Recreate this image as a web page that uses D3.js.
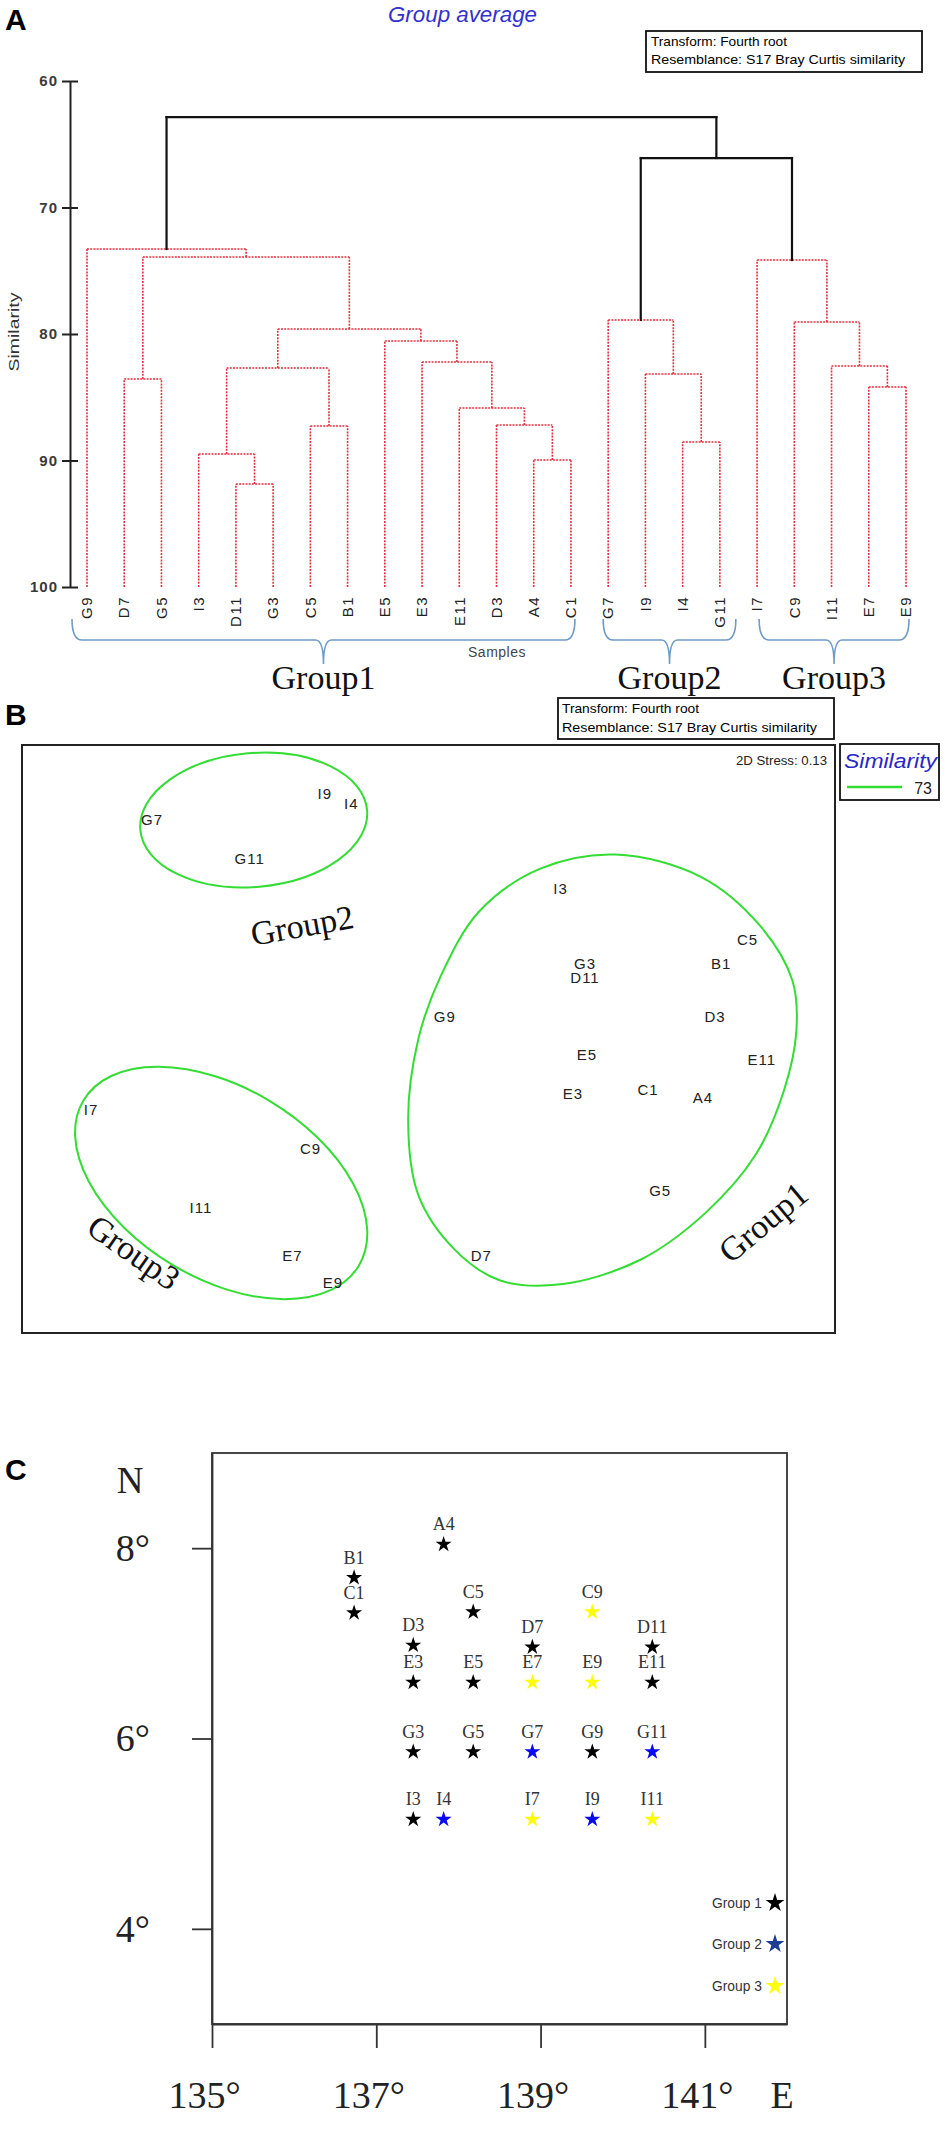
<!DOCTYPE html>
<html>
<head>
<meta charset="utf-8">
<script src="https://cdn.jsdelivr.net/npm/d3@7"></script>
<style>
  body { margin: 0; background: #fff; }
  svg { display: block; font-family: 'Liberation Sans', Arial, sans-serif; }
  .serif { font-family: 'Liberation Serif', 'Times New Roman', serif; }
</style>
</head>
<body>
<svg width="950" height="2130"></svg>
<script>
// ---------- panel A: dendrogram ----------
const leaves = ['G9','D7','G5','I3','D11','G3','C5','B1','E5','E3','E11','D3','A4','C1','G7','I9','I4','G11','I7','C9','I11','E7','E9'];
const mergeIds   = ['m1','m2','m3','m4','m5','m6','m7','m8','m9','m10','m11','m12','m13','m14','m15','m16','m17','m18','m19','m20','m21','m22'];
const mergeLeft  = ['A4','D11','E7','I4','I3','C5','D3','E11','I9','D7','I11','m5','E3','E5','m12','C9','G7','m10','G9','I7','m17','m19'];
const mergeRight = ['C1','G3','E9','G11','m2','B1','m1','m7','m4','G5','m3','m6','m8','m13','m14','m11','m9','m15','m18','m16','m20','m21'];
const mergeSim   = [89.96, 91.86, 84.19, 88.54, 89.49, 87.27, 87.19, 85.85, 83.16, 83.56, 82.53, 82.69, 82.21, 80.55, 79.6, 79.05, 78.89, 73.91, 73.28, 74.15, 66.09, 62.85];
const simTicks = [60, 70, 80, 90, 100];

const groupNames = ['Group1', 'Group2', 'Group3'];
const groupFirst = ['G9', 'G7', 'I7'];
const groupLast  = ['C1', 'G11', 'E9'];

// ---------- panel B: MDS ----------
const mdsLabels = ['G7','I9','I4','G11','I3','C5','G3','B1','D11','D3','E5','E11','E3','C1','A4','G5','D7','G9','I7','C9','I11','E7','E9'];
const mdsX = [-1.36,-0.51,-0.38,-0.88,0.65,1.57,0.77,1.44,0.77,1.41,0.78,1.64,0.71,1.08,1.35,1.14,0.26,0.08,-1.66,-0.58,-1.12,-0.67,-0.47];
const mdsY = [1.08,1.21,1.16,0.89,0.74,0.49,0.37,0.37,0.30,0.11,-0.08,-0.10,-0.27,-0.25,-0.29,-0.75,-1.07,0.11,-0.35,-0.54,-0.83,-1.07,-1.20];
const contour1X = [0.92,1.34,1.63,1.79,1.81,1.75,1.61,1.36,1.04,0.65,0.35,0.13,-0.05,-0.10,-0.05,0.06,0.25,0.55];
const contour1Y = [0.91,0.80,0.56,0.29,0.04,-0.25,-0.57,-0.86,-1.09,-1.21,-1.19,-1.04,-0.77,-0.40,0.00,0.31,0.63,0.84];
const ellipseCX = [-0.86, -1.02];
const ellipseCY = [1.08, -0.71];
const ellipseRX = [0.56, 0.79];
const ellipseRY = [0.33, 0.47];
const ellipseAngle = [-5, 31];
const similarityLevel = 73;
const stress = 0.13;

// ---------- panel C: sampling map ----------
const siteLabels = ['A4','B1','C1','C5','C9','D3','D7','D11','E3','E5','E7','E9','E11','G3','G5','G7','G9','G11','I3','I4','I7','I9','I11'];
const siteLon = [137.82,136.73,136.73,138.18,139.63,137.45,138.90,140.36,137.45,138.18,138.90,139.63,140.36,137.45,138.18,138.90,139.63,140.36,137.45,137.82,138.90,139.63,140.36];
const siteLat = [8.04,7.69,7.32,7.33,7.33,6.98,6.96,6.96,6.59,6.59,6.59,6.59,6.59,5.86,5.86,5.86,5.86,5.86,5.15,5.15,5.15,5.15,5.15];
const siteGroup = [1,1,1,1,3,1,1,1,1,1,3,3,1,1,1,2,1,2,1,2,3,2,3];
const lonTicks = [135, 137, 139, 141];
const latTicks = [4, 6, 8];
const legendLabels = ['Group 1', 'Group 2', 'Group 3'];

const starColor = { 1: '#000', 2: '#0a0af0', 3: '#ffff00' };
const legendColor = ['#000', '#1b3d92', '#ffff10'];

const svg = d3.select('svg');

// panel letters
[['A', 30], ['B', 725], ['C', 1480]].forEach(([t, yy]) => {
  svg.append('text').text(t).attr('x', 5).attr('y', yy)
    .style('font-size', '30px').style('font-weight', 'bold');
});

// ================= A =================
svg.append('text').text('Group average')
  .attr('x', 388).attr('y', 22)
  .attr('textLength', 149).attr('lengthAdjust', 'spacingAndGlyphs')
  .style('font-size', '22px').style('font-style', 'italic').style('fill', '#3131cf');

const boxA = svg.append('g');
boxA.append('rect').attr('x', 646).attr('y', 31).attr('width', 276).attr('height', 41)
  .style('fill', 'none').style('stroke', '#111').style('stroke-width', 1.8);
boxA.append('text').text('Transform: Fourth root').attr('x', 651).attr('y', 46)
  .attr('textLength', 136).attr('lengthAdjust', 'spacingAndGlyphs').style('font-size', '13px');
boxA.append('text').text('Resemblance: S17 Bray Curtis similarity').attr('x', 651).attr('y', 64)
  .attr('textLength', 254).attr('lengthAdjust', 'spacingAndGlyphs').style('font-size', '13px');

const xLeaf = d3.scalePoint().domain(leaves).range([87, 906]);
const ySim = d3.scaleLinear().domain([60, 100]).range([81, 587]);

const nodeX = {}, nodeSim = {};
leaves.forEach(l => { nodeX[l] = xLeaf(l); nodeSim[l] = 100; });
mergeIds.forEach((id, i) => {
  nodeX[id] = (nodeX[mergeLeft[i]] + nodeX[mergeRight[i]]) / 2;
  nodeSim[id] = mergeSim[i];
});

const cutLevel = 70;
const segs = [];
mergeIds.forEach((id, i) => {
  const s = mergeSim[i];
  const black = s < cutLevel;
  segs.push({ x1: nodeX[mergeLeft[i]], s1: s, x2: nodeX[mergeRight[i]], s2: s, black });
  [mergeLeft[i], mergeRight[i]].forEach(c => {
    segs.push({ x1: nodeX[c], s1: nodeSim[c], x2: nodeX[c], s2: s, black });
  });
});

const dendro = svg.append('g');
dendro.selectAll('line.red')
  .data(segs.filter(d => !d.black))
  .enter()
  .append('line')
    .attr('class', 'red')
    .attr('x1', d => d.x1).attr('x2', d => d.x2)
    .attr('y1', d => ySim(d.s1)).attr('y2', d => ySim(d.s2))
    .style('stroke', '#e2303f').style('stroke-width', 1.6)
    .style('stroke-dasharray', '2,1.2');
dendro.selectAll('line.black')
  .data(segs.filter(d => d.black))
  .enter()
  .append('line')
    .attr('class', 'black')
    .attr('x1', d => d.x1).attr('x2', d => d.x2)
    .attr('y1', d => ySim(d.s1)).attr('y2', d => ySim(d.s2))
    .style('stroke', '#111').style('stroke-width', 2.2)
    .style('stroke-linecap', 'square');

const simAxis = d3.axisLeft(ySim).tickValues(simTicks).tickSize(8).tickSizeOuter(0).tickPadding(4);
const gAxA = svg.append('g').attr('transform', 'translate(70,0)').call(simAxis);
gAxA.select('.domain').style('stroke', '#222').style('stroke-width', 2);
gAxA.selectAll('.tick line').attr('x1', 8).style('stroke', '#222').style('stroke-width', 2);
gAxA.selectAll('.tick text')
  .style('font-size', '15px').style('font-weight', 'bold').style('fill', '#3a3a3a')
  .style('letter-spacing', '1px').style('font-family', "'Liberation Sans', Arial, sans-serif");

svg.append('text').text('Similarity')
  .attr('transform', 'translate(19,332) rotate(-90)')
  .attr('text-anchor', 'middle')
  .attr('textLength', 79).attr('lengthAdjust', 'spacingAndGlyphs')
  .style('font-size', '14px').style('fill', '#333');

svg.selectAll('text.leaf')
  .data(leaves)
  .enter()
  .append('text')
    .attr('class', 'leaf')
    .text(d => d)
    .attr('text-anchor', 'end')
    .attr('dy', '0.35em')
    .attr('transform', d => `translate(${xLeaf(d)},596) rotate(-90)`)
    .style('font-size', '15px').style('letter-spacing', '1.5px').style('fill', '#222');

svg.append('text').text('Samples')
  .attr('x', 497).attr('y', 657).attr('text-anchor', 'middle')
  .style('font-size', '14px').style('fill', '#444').style('letter-spacing', '0.5px');

// group braces
const bracePadL = [15, 5, -2];
const bracePadR = [4, 16, 3];
groupNames.forEach((g, i) => {
  const x0 = xLeaf(groupFirst[i]) - bracePadL[i];
  const x1 = xLeaf(groupLast[i]) + bracePadR[i];
  const xm = (x0 + x1) / 2;
  const top = 619, h = 640, tip = 664;
  const p = d3.path();
  p.moveTo(x0, top);
  p.quadraticCurveTo(x0, h, x0 + 10, h);
  p.lineTo(xm - 8, h);
  p.quadraticCurveTo(xm, h, xm, tip);
  p.quadraticCurveTo(xm, h, xm + 8, h);
  p.lineTo(x1 - 10, h);
  p.quadraticCurveTo(x1, h, x1, top);
  svg.append('path').attr('d', p.toString())
    .style('fill', 'none').style('stroke', '#6f9bc4').style('stroke-width', 1.6);
  svg.append('text').attr('class', 'serif').text(g)
    .attr('x', xm).attr('y', 689).attr('text-anchor', 'middle')
    .style('font-size', '34px').style('fill', '#111');
});

// ================= B =================
const boxB = svg.append('g');
boxB.append('rect').attr('x', 558).attr('y', 698).attr('width', 276).attr('height', 41)
  .style('fill', 'none').style('stroke', '#111').style('stroke-width', 1.8);
boxB.append('text').text('Transform: Fourth root').attr('x', 562).attr('y', 713)
  .attr('textLength', 137).attr('lengthAdjust', 'spacingAndGlyphs').style('font-size', '13px');
boxB.append('text').text('Resemblance: S17 Bray Curtis similarity').attr('x', 562).attr('y', 732)
  .attr('textLength', 255).attr('lengthAdjust', 'spacingAndGlyphs').style('font-size', '13px');

const mx = d3.scaleLinear().domain([-2, 2]).range([22, 835]);
const my = d3.scaleLinear().domain([-1.45, 1.45]).range([1333, 745]);

svg.append('rect').attr('x', mx(-2)).attr('y', my(1.45))
  .attr('width', mx(2) - mx(-2)).attr('height', my(-1.45) - my(1.45))
  .style('fill', 'none').style('stroke', '#222').style('stroke-width', 2);

svg.append('text').text(`2D Stress: ${stress}`)
  .attr('x', 827).attr('y', 765).attr('text-anchor', 'end')
  .attr('textLength', 91).attr('lengthAdjust', 'spacingAndGlyphs')
  .style('font-size', '13px').style('fill', '#222');

// similarity legend
svg.append('rect').attr('x', 840).attr('y', 744).attr('width', 99).attr('height', 56)
  .style('fill', 'none').style('stroke', '#111').style('stroke-width', 1.8);
svg.append('text').text('Similarity').attr('x', 844).attr('y', 768)
  .attr('textLength', 93).attr('lengthAdjust', 'spacingAndGlyphs')
  .style('font-size', '20px').style('font-style', 'italic').style('fill', '#2727c8');
svg.append('line').attr('x1', 847).attr('x2', 902).attr('y1', 787).attr('y2', 787)
  .style('stroke', '#33dd33').style('stroke-width', 2.5);
svg.append('text').text(similarityLevel).attr('x', 932).attr('y', 794).attr('text-anchor', 'end')
  .style('font-size', '16px').style('fill', '#222');

// contours
const contourLine = d3.line().curve(d3.curveCatmullRomClosed.alpha(0.5))
  .x(i => mx(contour1X[i])).y(i => my(contour1Y[i]));
svg.append('path').attr('d', contourLine(d3.range(contour1X.length)))
  .style('fill', 'none').style('stroke', '#33dd33').style('stroke-width', 2);
ellipseCX.forEach((cx, i) => {
  const px = mx(cx), py = my(ellipseCY[i]);
  svg.append('ellipse')
    .attr('cx', px).attr('cy', py)
    .attr('rx', mx(cx + ellipseRX[i]) - px)
    .attr('ry', py - my(ellipseCY[i] + ellipseRY[i]))
    .attr('transform', `rotate(${ellipseAngle[i]},${px},${py})`)
    .style('fill', 'none').style('stroke', '#33dd33').style('stroke-width', 2);
});

svg.selectAll('text.mds')
  .data(mdsLabels)
  .enter()
  .append('text')
    .attr('class', 'mds')
    .text(d => d)
    .attr('x', (d, i) => mx(mdsX[i]))
    .attr('y', (d, i) => my(mdsY[i]))
    .attr('dy', '0.35em')
    .attr('text-anchor', 'middle')
    .style('font-size', '15px').style('letter-spacing', '1px').style('fill', '#222');

// rotated group names inside MDS
const bGroupX = [763, 302, 134];
const bGroupY = [1222, 925, 1252];
const bGroupRot = [-40, -10, 35];
groupNames.forEach((g, i) => {
  svg.append('text').attr('class', 'serif').text(g)
    .attr('text-anchor', 'middle').attr('dy', '0.35em')
    .attr('transform', `translate(${bGroupX[i]},${bGroupY[i]}) rotate(${bGroupRot[i]})`)
    .style('font-size', '34px').style('fill', '#111');
});

// ================= C =================
const lon = d3.scaleLinear().domain([135, 142]).range([212, 787]);
const lat = d3.scaleLinear().domain([3, 9]).range([2024, 1453]);

svg.append('rect').attr('x', lon(135)).attr('y', lat(9))
  .attr('width', lon(142) - lon(135)).attr('height', lat(3) - lat(9))
  .style('fill', 'none').style('stroke', '#333').style('stroke-width', 1.8);

const latAxis = d3.axisLeft(lat).tickValues(latTicks).tickSize(20).tickSizeOuter(0)
  .tickPadding(42).tickFormat(d => d + '°');
const gLat = svg.append('g').attr('transform', `translate(${lon(135)},0)`).call(latAxis);
const lonAxis = d3.axisBottom(lon).tickValues(lonTicks).tickSize(24).tickSizeOuter(0)
  .tickPadding(33).tickFormat(d => d + '°');
const gLon = svg.append('g').attr('transform', `translate(0,${lat(3)})`).call(lonAxis);

[gLat, gLon].forEach(g => {
  g.select('.domain').style('stroke', '#333').style('stroke-width', 1.8);
  g.selectAll('.tick line').style('stroke', '#333').style('stroke-width', 1.8);
  g.selectAll('.tick text').attr('class', 'serif')
    .style('font-size', '38px').style('fill', '#222')
    .style('font-family', "'Liberation Serif', 'Times New Roman', serif");
});
gLon.selectAll('.tick text').attr('dx', -8);

svg.append('text').attr('class', 'serif').text('N')
  .attr('x', 130).attr('y', 1493).attr('text-anchor', 'middle')
  .style('font-size', '37px').style('fill', '#222');
svg.append('text').attr('class', 'serif').text('E')
  .attr('x', 782).attr('y', 2108).attr('text-anchor', 'middle')
  .style('font-size', '38px').style('fill', '#222');

const star = d3.symbol().type(d3.symbolStar).size(80);
svg.selectAll('path.site')
  .data(siteLabels)
  .enter()
  .append('path')
    .attr('class', 'site')
    .attr('d', star)
    .attr('transform', (d, i) => `translate(${lon(siteLon[i])},${lat(siteLat[i])})`)
    .style('fill', (d, i) => starColor[siteGroup[i]]);

svg.selectAll('text.site')
  .data(siteLabels)
  .enter()
  .append('text')
    .attr('class', 'site serif')
    .text(d => d)
    .attr('x', (d, i) => lon(siteLon[i]))
    .attr('y', (d, i) => lat(siteLat[i]) - 14)
    .attr('text-anchor', 'middle')
    .style('font-size', '18px').style('fill', '#333');

// legend
const legStar = d3.symbol().type(d3.symbolStar).size(110);
const legendY = [1903, 1944, 1986];
legendLabels.forEach((t, i) => {
  svg.append('text').text(t).attr('x', 762).attr('y', legendY[i]).attr('dy', '0.35em')
    .attr('text-anchor', 'end')
    .attr('textLength', 50).attr('lengthAdjust', 'spacingAndGlyphs')
    .style('font-size', '14px').style('fill', '#333');
  svg.append('path').attr('d', legStar)
    .attr('transform', `translate(775,${legendY[i]})`)
    .style('fill', legendColor[i]);
});
</script>
</body>
</html>
